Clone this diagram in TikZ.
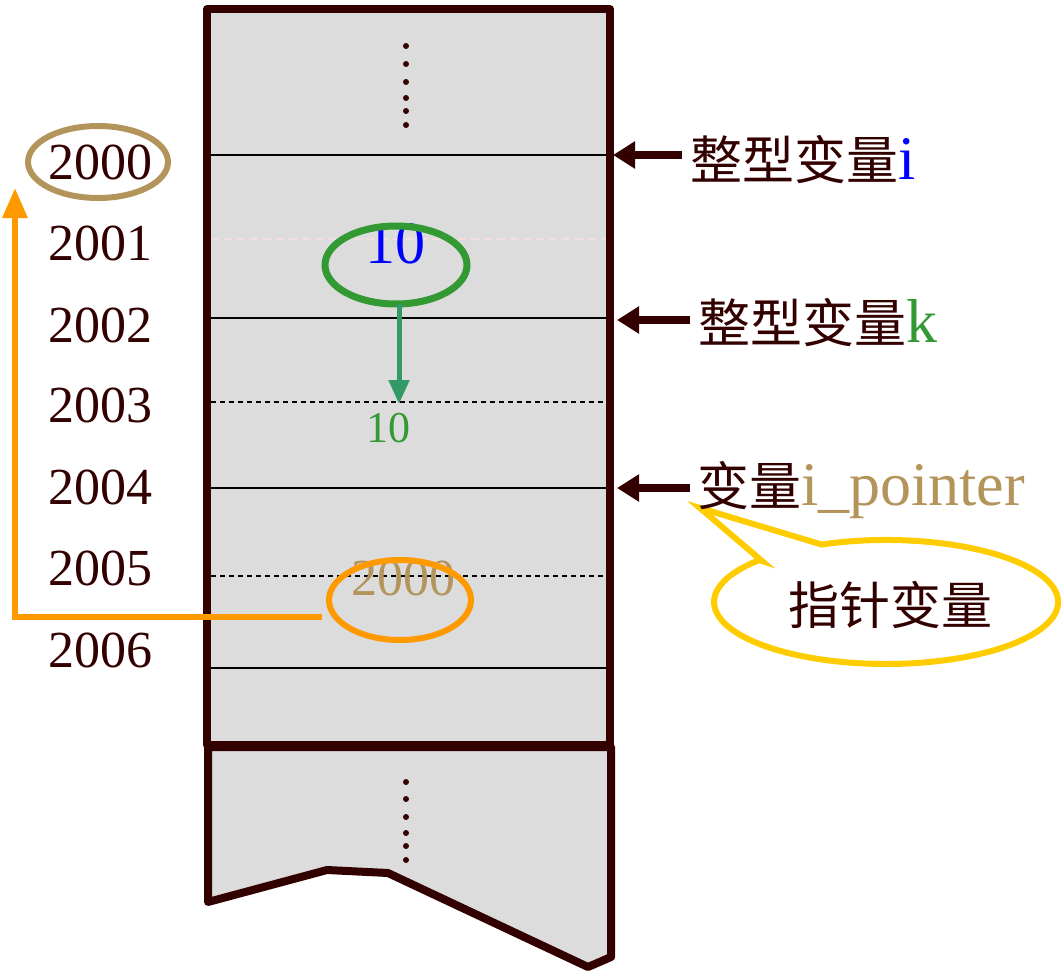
\documentclass[tikz,border=0pt]{standalone}
\usepackage{fontspec}
\setmainfont{Liberation Serif}
\newfontfamily\cjk{Noto Sans CJK SC}
\usetikzlibrary{arrows.meta,shapes.geometric}
\definecolor{dbrown}{HTML}{330000}
\definecolor{memgray}{HTML}{DCDCDC}
\definecolor{tan}{HTML}{B3955B}
\definecolor{ogreen}{HTML}{339933}
\definecolor{agreen}{HTML}{339966}
\definecolor{orng}{HTML}{FF9900}
\definecolor{yell}{HTML}{FFCC00}
\definecolor{pinkl}{HTML}{F3DEDE}
\newcommand{\latbig}{\rmfamily\fontsize{62}{70}\selectfont}
\tikzset{
  big/.style={font=\fontsize{52}{60}\selectfont, inner sep=0pt},
  addr/.style={big, text=dbrown},
  cjklab/.style={font=\fontsize{52}{60}\selectfont\cjk, inner sep=0pt, text=dbrown, anchor=west},
  frame/.style={draw=dbrown, line width=8pt, fill=memgray, line join=round},
  solidsep/.style={draw=black, line width=1.2pt},
  dashsep/.style={draw=black, line width=1.2pt, dash pattern=on 5pt off 4pt},
  pinksep/.style={draw=pinkl, line width=1.5pt, dash pattern=on 8pt off 5pt},
  dotm/.style={fill=dbrown, circle, inner sep=0pt, minimum size=6pt},
  rarrow/.style={draw=dbrown, line width=8pt, -{Triangle[length=22pt,width=26pt]}},
}
\begin{document}
\begin{tikzpicture}[x=1pt,y=-1pt]
\useasboundingbox (0,0) rectangle (1063,971);
% lower torn part
\path[frame] (208,747) -- (208,902) -- (327,870) -- (388,873) -- (588,967) -- (611,957) -- (611,747) -- cycle;
% main memory rectangle
\path[frame] (207,9) rectangle (610,745);
% separators
\draw[solidsep] (211,155) -- (606,155);
\draw[pinksep] (211,239) -- (606,239);
\draw[solidsep] (211,318) -- (606,318);
\draw[dashsep] (211,402) -- (606,402);
\draw[solidsep] (211,488) -- (606,488);
\draw[dashsep] (211,576) -- (606,576);
\draw[solidsep] (211,668) -- (606,668);
% dots
\foreach \y [count=\i] in {46,64,82,98,111,125} \node[dotm] (td\i) at (406,\y) {};
\foreach \y [count=\i] in {782,799,817,833,846,860} \node[dotm] (bd\i) at (406,\y) {};
% addresses
\node[addr] (a0) at (100,162) {2000};
\node[addr] (a1) at (100,243) {2001};
\node[addr] (a2) at (100,325) {2002};
\node[addr] (a3) at (100,405) {2003};
\node[addr] (a4) at (100,487) {2004};
\node[addr] (a5) at (100,568) {2005};
\node[addr] (a6) at (100,650) {2006};
\draw[tan, line width=6pt] (98,162) ellipse [x radius=70, y radius=36];
% values
\node[font=\fontsize{60}{68}\selectfont, inner sep=0pt, text=blue] (vi) at (395,244) {10};
\draw[ogreen, line width=7pt] (396,265) ellipse [x radius=71, y radius=39];
\node[font=\fontsize{44}{50}\selectfont, inner sep=0pt, text=ogreen] (vk) at (388,428) {10};
\coordinate (gs) at (399,304);
\coordinate (ge) at (399,404);
\draw[agreen, line width=5pt, -{Triangle[length=24pt,width=20pt]}] (gs) -- (ge);
\node[big, text=tan] (vp) at (403,578) {2000};
\draw[orng, line width=6pt] (400,600) ellipse [x radius=71, y radius=40];
% orange pointer arrow
\coordinate (os) at (322,617);
\coordinate (ot) at (15,188);
\draw[orng, line width=6pt, -{Triangle[length=30pt,width=24pt]}] (os) -| (ot);
% callout
\coordinate (ctip) at (700,508);
\draw[yell, line width=6pt, fill=white, line join=miter]
  (762,561) -- (ctip) -- (821.6,544.5)
  arc[start angle=-112, end angle=222.5, x radius=172, y radius=62] -- cycle;
\node[font=\fontsize{51}{58}\selectfont\cjk, inner sep=0pt, text=dbrown] (cl) at (890,605) {指针变量};
% right labels
\node[cjklab] (li) at (690,160) {整型变量\textcolor{blue}{\latbig i}};
\node[cjklab] (lk) at (698,323) {整型变量\textcolor{ogreen}{\latbig k}};
\node[cjklab] (lp) at (697,490) {变量\textcolor{tan}{\latbig i\_pointer}};
\coordinate (ti) at (613,155);
\coordinate (tk) at (617,320);
\coordinate (tp) at (617,488);
\draw[rarrow] (li.west |- ti) ++(-8,0) -- (ti);
\draw[rarrow] (lk.west |- tk) ++(-8,0) -- (tk);
\draw[rarrow] (lp.west |- tp) ++(-7,0) -- (tp);
\end{tikzpicture}
\end{document}
